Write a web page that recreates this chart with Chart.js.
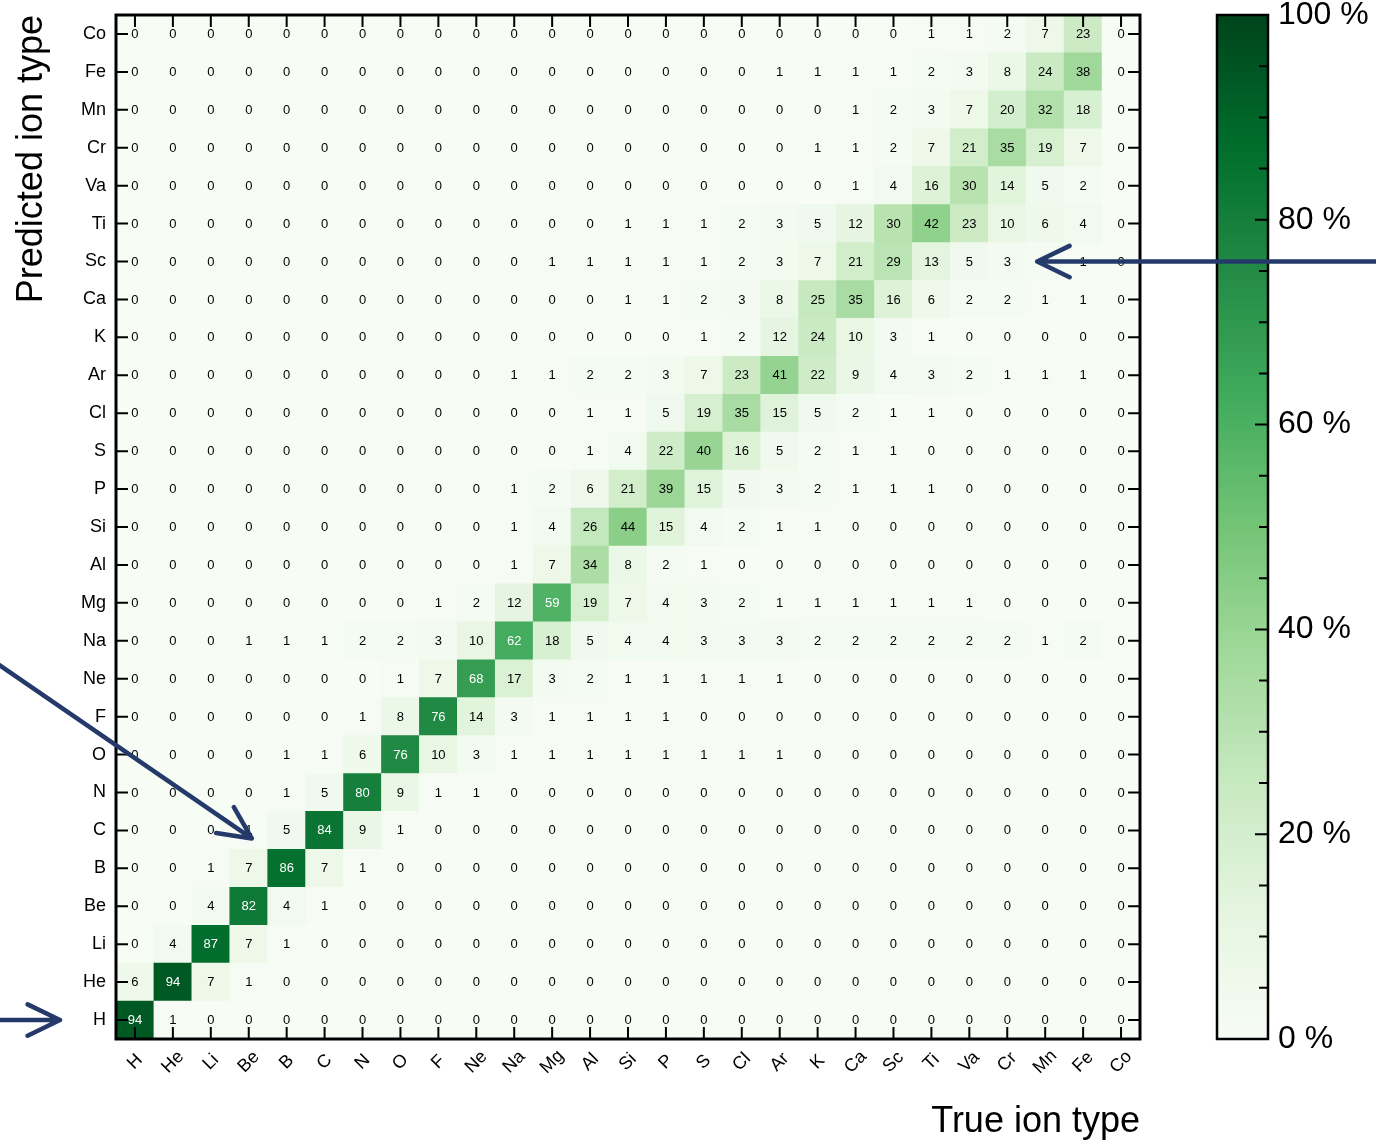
<!DOCTYPE html>
<html>
<head>
<meta charset="utf-8">
<script src="https://cdn.jsdelivr.net/npm/chart.js@4.4.1/dist/chart.umd.min.js"></script>
<style>
html, body { margin: 0; padding: 0; background: #fff; }
</style>
</head>
<body>
<canvas id="confusionChart" width="1376" height="1142"></canvas>
<script>
// ion types, same order on both axes (H first)
const ionTypes = ['H', 'He', 'Li', 'Be', 'B', 'C', 'N', 'O', 'F', 'Ne', 'Na', 'Mg', 'Al', 'Si',
    'P', 'S', 'Cl', 'Ar', 'K', 'Ca', 'Sc', 'Ti', 'Va', 'Cr', 'Mn', 'Fe', 'Co'];

// percentages: one array per predicted type, columns = true type H..Co
const predH  = [94, 1, 0, 0, 0, 0, 0, 0, 0, 0, 0, 0, 0, 0, 0, 0, 0, 0, 0, 0, 0, 0, 0, 0, 0, 0, 0];
const predHe = [6, 94, 7, 1, 0, 0, 0, 0, 0, 0, 0, 0, 0, 0, 0, 0, 0, 0, 0, 0, 0, 0, 0, 0, 0, 0, 0];
const predLi = [0, 4, 87, 7, 1, 0, 0, 0, 0, 0, 0, 0, 0, 0, 0, 0, 0, 0, 0, 0, 0, 0, 0, 0, 0, 0, 0];
const predBe = [0, 0, 4, 82, 4, 1, 0, 0, 0, 0, 0, 0, 0, 0, 0, 0, 0, 0, 0, 0, 0, 0, 0, 0, 0, 0, 0];
const predB  = [0, 0, 1, 7, 86, 7, 1, 0, 0, 0, 0, 0, 0, 0, 0, 0, 0, 0, 0, 0, 0, 0, 0, 0, 0, 0, 0];
const predC  = [0, 0, 0, 1, 5, 84, 9, 1, 0, 0, 0, 0, 0, 0, 0, 0, 0, 0, 0, 0, 0, 0, 0, 0, 0, 0, 0];
const predN  = [0, 0, 0, 0, 1, 5, 80, 9, 1, 1, 0, 0, 0, 0, 0, 0, 0, 0, 0, 0, 0, 0, 0, 0, 0, 0, 0];
const predO  = [0, 0, 0, 0, 1, 1, 6, 76, 10, 3, 1, 1, 1, 1, 1, 1, 1, 1, 0, 0, 0, 0, 0, 0, 0, 0, 0];
const predF  = [0, 0, 0, 0, 0, 0, 1, 8, 76, 14, 3, 1, 1, 1, 1, 0, 0, 0, 0, 0, 0, 0, 0, 0, 0, 0, 0];
const predNe = [0, 0, 0, 0, 0, 0, 0, 1, 7, 68, 17, 3, 2, 1, 1, 1, 1, 1, 0, 0, 0, 0, 0, 0, 0, 0, 0];
const predNa = [0, 0, 0, 1, 1, 1, 2, 2, 3, 10, 62, 18, 5, 4, 4, 3, 3, 3, 2, 2, 2, 2, 2, 2, 1, 2, 0];
const predMg = [0, 0, 0, 0, 0, 0, 0, 0, 1, 2, 12, 59, 19, 7, 4, 3, 2, 1, 1, 1, 1, 1, 1, 0, 0, 0, 0];
const predAl = [0, 0, 0, 0, 0, 0, 0, 0, 0, 0, 1, 7, 34, 8, 2, 1, 0, 0, 0, 0, 0, 0, 0, 0, 0, 0, 0];
const predSi = [0, 0, 0, 0, 0, 0, 0, 0, 0, 0, 1, 4, 26, 44, 15, 4, 2, 1, 1, 0, 0, 0, 0, 0, 0, 0, 0];
const predP  = [0, 0, 0, 0, 0, 0, 0, 0, 0, 0, 1, 2, 6, 21, 39, 15, 5, 3, 2, 1, 1, 1, 0, 0, 0, 0, 0];
const predS  = [0, 0, 0, 0, 0, 0, 0, 0, 0, 0, 0, 0, 1, 4, 22, 40, 16, 5, 2, 1, 1, 0, 0, 0, 0, 0, 0];
const predCl = [0, 0, 0, 0, 0, 0, 0, 0, 0, 0, 0, 0, 1, 1, 5, 19, 35, 15, 5, 2, 1, 1, 0, 0, 0, 0, 0];
const predAr = [0, 0, 0, 0, 0, 0, 0, 0, 0, 0, 1, 1, 2, 2, 3, 7, 23, 41, 22, 9, 4, 3, 2, 1, 1, 1, 0];
const predK  = [0, 0, 0, 0, 0, 0, 0, 0, 0, 0, 0, 0, 0, 0, 0, 1, 2, 12, 24, 10, 3, 1, 0, 0, 0, 0, 0];
const predCa = [0, 0, 0, 0, 0, 0, 0, 0, 0, 0, 0, 0, 0, 1, 1, 2, 3, 8, 25, 35, 16, 6, 2, 2, 1, 1, 0];
const predSc = [0, 0, 0, 0, 0, 0, 0, 0, 0, 0, 0, 1, 1, 1, 1, 1, 2, 3, 7, 21, 29, 13, 5, 3, 2, 1, 0];
const predTi = [0, 0, 0, 0, 0, 0, 0, 0, 0, 0, 0, 0, 0, 1, 1, 1, 2, 3, 5, 12, 30, 42, 23, 10, 6, 4, 0];
const predVa = [0, 0, 0, 0, 0, 0, 0, 0, 0, 0, 0, 0, 0, 0, 0, 0, 0, 0, 0, 1, 4, 16, 30, 14, 5, 2, 0];
const predCr = [0, 0, 0, 0, 0, 0, 0, 0, 0, 0, 0, 0, 0, 0, 0, 0, 0, 0, 1, 1, 2, 7, 21, 35, 19, 7, 0];
const predMn = [0, 0, 0, 0, 0, 0, 0, 0, 0, 0, 0, 0, 0, 0, 0, 0, 0, 0, 0, 1, 2, 3, 7, 20, 32, 18, 0];
const predFe = [0, 0, 0, 0, 0, 0, 0, 0, 0, 0, 0, 0, 0, 0, 0, 0, 0, 1, 1, 1, 1, 2, 3, 8, 24, 38, 0];
const predCo = [0, 0, 0, 0, 0, 0, 0, 0, 0, 0, 0, 0, 0, 0, 0, 0, 0, 0, 0, 0, 0, 1, 1, 2, 7, 23, 0];

const predRows = [predH, predHe, predLi, predBe, predB, predC, predN, predO, predF, predNe,
    predNa, predMg, predAl, predSi, predP, predS, predCl, predAr, predK, predCa, predSc,
    predTi, predVa, predCr, predMn, predFe, predCo];

// colour bar ticks (percent)
const cbLabels = [0, 20, 40, 60, 80, 100];
const cbMinor = [0, 5, 10, 15, 20, 25, 30, 35, 40, 45, 50, 55, 60, 65, 70, 75, 80, 85, 90, 95, 100];

const FONT = '"Liberation Sans", Arial, Helvetica, sans-serif';
const ARROW = '#243a6b';

// matplotlib "Greens"
const greenStops = ['#f7fcf5', '#e5f5e0', '#c7e9c0', '#a1d99b', '#74c476', '#41ab5d', '#238b45', '#006d2c', '#00441b'];
function hexRgb(h) {
    return [parseInt(h.slice(1, 3), 16), parseInt(h.slice(3, 5), 16), parseInt(h.slice(5, 7), 16)];
}
function greens(t) {
    t = Math.max(0, Math.min(1, t));
    const p = t * (greenStops.length - 1);
    const i = Math.min(Math.floor(p), greenStops.length - 2);
    const f = p - i;
    const a = hexRgb(greenStops[i]), b = hexRgb(greenStops[i + 1]);
    const c = a.map((v, k) => Math.round(v + (b[k] - v) * f));
    return `rgb(${c[0]},${c[1]},${c[2]})`;
}

// one floating-bar dataset per predicted row
const datasets = predRows.map((vals, r) => ({
    label: ionTypes[r],
    data: vals.map(() => [r - 0.5, r + 0.5]),
    values: vals,
    backgroundColor: vals.map(v => greens(v / 100)),
    borderWidth: 0
}));

function drawArrow(ctx, x0, y0, x1, y1) {
    const ang = Math.atan2(y1 - y0, x1 - x0);
    const head = 36, spread = 0.45;
    ctx.beginPath();
    ctx.moveTo(x0, y0);
    ctx.lineTo(x1, y1);
    ctx.moveTo(x1 - head * Math.cos(ang - spread), y1 - head * Math.sin(ang - spread));
    ctx.lineTo(x1, y1);
    ctx.lineTo(x1 - head * Math.cos(ang + spread), y1 - head * Math.sin(ang + spread));
    ctx.stroke();
}

const decorPlugin = {
    id: 'decor',
    afterDatasetsDraw(chart) {
        const { ctx, chartArea: a, scales: { x, y } } = chart;
        ctx.save();

        // numbers in the cells
        ctx.font = `13px ${FONT}`;
        ctx.textAlign = 'center';
        ctx.textBaseline = 'middle';
        chart.data.datasets.forEach((ds, i) => {
            chart.getDatasetMeta(i).data.forEach((bar, j) => {
                const v = ds.values[j];
                ctx.fillStyle = v >= 50 ? '#ffffff' : '#000000';
                ctx.fillText(String(v), bar.x, (bar.y + bar.base) / 2 + 0.5);
            });
        });

        // inward ticks on all four sides
        ctx.strokeStyle = '#000';
        ctx.lineWidth = 2;
        ctx.beginPath();
        ionTypes.forEach((_, i) => {
            const px = x.getPixelForValue(i);
            ctx.moveTo(px, a.top); ctx.lineTo(px, a.top + 12);
            ctx.moveTo(px, a.bottom); ctx.lineTo(px, a.bottom - 12);
            const py = y.getPixelForValue(i);
            ctx.moveTo(a.left, py); ctx.lineTo(a.left + 12, py);
            ctx.moveTo(a.right, py); ctx.lineTo(a.right - 12, py);
        });
        ctx.stroke();

        // frame
        ctx.lineWidth = 3;
        ctx.strokeRect(a.left, a.top, a.right - a.left, a.bottom - a.top);

        // rotated x tick labels, centred under the tick
        ctx.fillStyle = '#000';
        ctx.font = `18px ${FONT}`;
        ionTypes.forEach((lab, i) => {
            ctx.save();
            ctx.translate(x.getPixelForValue(i), a.bottom + 23);
            ctx.rotate(-Math.PI / 4);
            ctx.fillText(lab, 0, 0);
            ctx.restore();
        });

        // colour bar
        const cbL = a.right + 77, cbW = 51;
        const cbY = p => a.bottom - (a.bottom - a.top) * p / 100;
        const grad = ctx.createLinearGradient(0, a.bottom, 0, a.top);
        greenStops.forEach((c, k) => grad.addColorStop(k / (greenStops.length - 1), c));
        ctx.fillStyle = grad;
        ctx.fillRect(cbL, a.top, cbW, a.bottom - a.top);
        ctx.lineWidth = 2;
        ctx.beginPath();
        cbMinor.forEach(p => {
            const len = p % 20 === 0 ? 13 : 9;
            ctx.moveTo(cbL + cbW, cbY(p));
            ctx.lineTo(cbL + cbW - len, cbY(p));
        });
        ctx.stroke();
        ctx.lineWidth = 2.5;
        ctx.strokeRect(cbL, a.top, cbW, a.bottom - a.top);
        ctx.fillStyle = '#000';
        ctx.font = `32px ${FONT}`;
        ctx.textAlign = 'left';
        cbLabels.forEach(p => ctx.fillText(`${p} %`, cbL + cbW + 10, cbY(p)));

        // annotation arrows
        ctx.strokeStyle = ARROW;
        ctx.lineWidth = 4.5;
        ctx.lineCap = 'round';
        ctx.lineJoin = 'round';
        const ySc = y.getPixelForValue(ionTypes.indexOf('Sc'));
        drawArrow(ctx, chart.width + 10, ySc, x.getPixelForValue(ionTypes.indexOf('Mn')) - 8, ySc);
        const tx = x.getPixelForValue(ionTypes.indexOf('Be')) + 3;
        const ty = y.getPixelForValue(ionTypes.indexOf('C')) + 8;
        const k = (tx + 10) / 252;
        drawArrow(ctx, tx - 252 * k, ty - 173 * k, tx, ty);
        const yH = y.getPixelForValue(0);
        drawArrow(ctx, -10, yH, a.left - 56, yH);

        ctx.restore();
    }
};

const ctx = document.getElementById('confusionChart').getContext('2d');

const confusionChart = new Chart(ctx, {
    type: 'bar',
    data: {
        labels: ionTypes,
        datasets: datasets
    },
    options: {
        responsive: false,
        animation: false,
        devicePixelRatio: 1,
        layout: { padding: { top: 15, right: 236, left: 0, bottom: 0 } },
        datasets: {
            bar: { grouped: false, barPercentage: 1, categoryPercentage: 1 }
        },
        plugins: {
            legend: { display: false },
            tooltip: { enabled: false }
        },
        scales: {
            x: {
                type: 'category',
                offset: true,
                grid: { display: false, drawTicks: false },
                border: { display: false },
                ticks: { display: false },
                title: {
                    display: true,
                    text: 'True ion type',
                    align: 'end',
                    color: '#000',
                    padding: 0,
                    font: { family: FONT, size: 36, lineHeight: 1.1 }
                },
                afterFit(scale) {
                    scale.height = 103;
                    scale.paddingLeft = 0;
                    scale.paddingRight = 0;
                }
            },
            y: {
                type: 'linear',
                min: -0.5,
                max: 26.5,
                afterBuildTicks(scale) {
                    scale.ticks = ionTypes.map((_, i) => ({ value: i }));
                },
                grid: { display: false, drawTicks: false },
                border: { display: false },
                ticks: {
                    color: '#000',
                    padding: 10,
                    font: { family: FONT, size: 18 },
                    callback: v => ionTypes[v]
                },
                title: {
                    display: true,
                    text: 'Predicted ion type',
                    align: 'end',
                    color: '#000',
                    padding: { top: 10 },
                    font: { family: FONT, size: 36, lineHeight: 1.2 }
                },
                afterFit(scale) {
                    scale.width = 116;
                    scale.paddingTop = 0;
                    scale.paddingBottom = 0;
                }
            }
        }
    },
    plugins: [decorPlugin]
});
</script>
</body>
</html>
